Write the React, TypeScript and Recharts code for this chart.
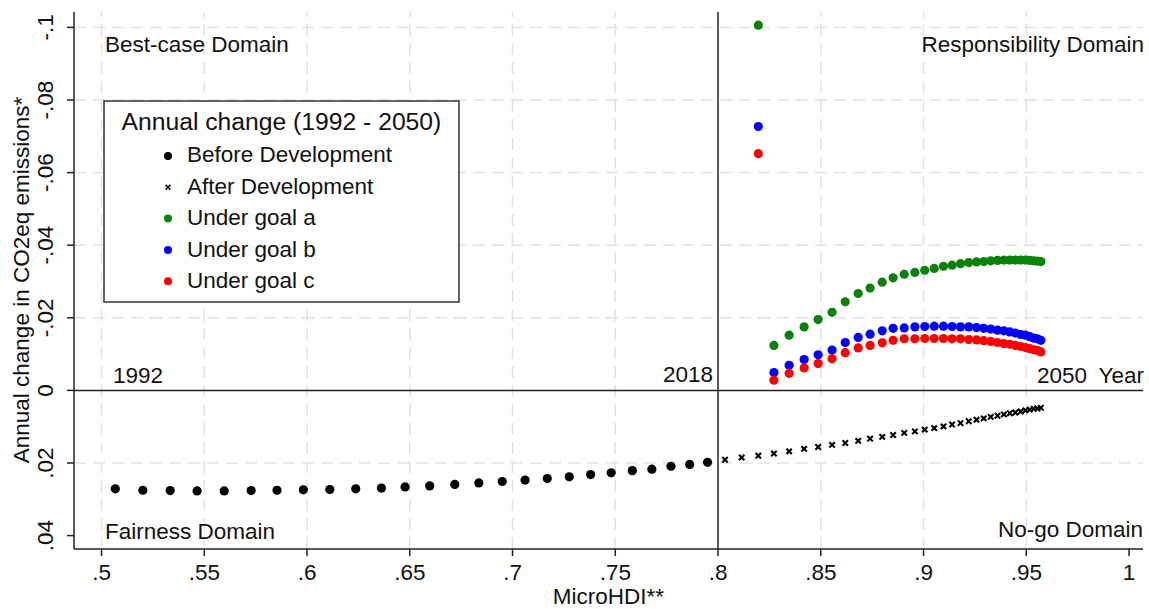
import React from "react";
import { ScatterChart, Scatter, XAxis, YAxis, ReferenceLine } from "recharts";

const FONT = "'Liberation Sans', Arial, Helvetica, sans-serif";
const FS = 22.5;

// Ticks
const xTicks = [0.5, 0.55, 0.6, 0.65, 0.7, 0.75, 0.8, 0.85, 0.9, 0.95, 1];
const xTickLabels = [".5", ".55", ".6", ".65", ".7", ".75", ".8", ".85", ".9", ".95", "1"];
const yTicks = [-0.1, -0.08, -0.06, -0.04, -0.02, 0, 0.02, 0.04];
const yTickLabels = ["-.1", "-.08", "-.06", "-.04", "-.02", "0", ".02", ".04"];
const gridX = [0.5, 0.55, 0.6, 0.65, 0.7, 0.75, 0.85, 0.9, 0.95];
const gridY = [-0.1, -0.08, -0.06, -0.04, -0.02, 0.02];

// Before Development (1992-2017)
const beforeX = [
  0.5067, 0.5201, 0.5334, 0.5465, 0.5597, 0.5728, 0.5854, 0.5982, 0.6111, 0.6237,
  0.6362, 0.6477, 0.6597, 0.6719, 0.6836, 0.695, 0.7061, 0.7169, 0.7276, 0.738,
  0.748, 0.7583, 0.7678, 0.7771, 0.7862, 0.7949,
];
const beforeY = [
  0.0271, 0.0275, 0.0276, 0.0277, 0.0277, 0.0276, 0.0275, 0.0274, 0.0273, 0.0271,
  0.0269, 0.0266, 0.0263, 0.0259, 0.0255, 0.0251, 0.0247, 0.0243, 0.0238, 0.0232,
  0.0227, 0.0221, 0.0217, 0.0209, 0.0204, 0.0198,
];

// After Development (2018-2050)
const afterX = [
  0.8034, 0.8115, 0.8196, 0.8272, 0.8346, 0.8419, 0.8487, 0.8555, 0.8619, 0.8682,
  0.874, 0.8799, 0.8852, 0.8906, 0.8958, 0.9006, 0.9052, 0.9097, 0.9139, 0.918,
  0.922, 0.9258, 0.9293, 0.9327, 0.936, 0.9391, 0.942, 0.9447, 0.9473, 0.9496,
  0.9517, 0.9536, 0.9554, 0.9571,
];
const afterY = [
  0.0191, 0.0185, 0.018, 0.0174, 0.0168, 0.0161, 0.0156, 0.015, 0.0145, 0.0139,
  0.0133, 0.0128, 0.0123, 0.0117, 0.0113, 0.0108, 0.0104, 0.0099, 0.0094, 0.009,
  0.0085, 0.0081, 0.0077, 0.0073, 0.007, 0.0066, 0.0063, 0.0061, 0.0058, 0.0055,
  0.0053, 0.0051, 0.005, 0.0048,
];

// Goals (aligned with afterX; null where no value)
const goalA = [
  null, null, -0.1006, -0.0124, -0.0152, -0.0175, -0.0195, -0.0215, -0.0244, -0.0267,
  -0.0282, -0.0298, -0.031, -0.032, -0.0325, -0.0331, -0.0336, -0.0342, -0.0345, -0.0349,
  -0.0352, -0.0354, -0.0355, -0.0357, -0.0358, -0.0359, -0.0359, -0.0359, -0.0359, -0.0359,
  -0.0358, -0.0357, -0.0356, -0.0355,
];
const goalB = [
  null, null, -0.0727, -0.0049, -0.0069, -0.0085, -0.0098, -0.0111, -0.0132, -0.0146,
  -0.0155, -0.0164, -0.0171, -0.0172, -0.0175, -0.0176, -0.0177, -0.0177, -0.0176, -0.0175,
  -0.0175, -0.0173, -0.0171, -0.0169, -0.0166, -0.0164, -0.0161, -0.0158, -0.0154, -0.0152,
  -0.0148, -0.0144, -0.0142, -0.0138,
];
const goalC = [
  null, null, -0.0652, -0.0028, -0.0047, -0.0062, -0.0074, -0.0087, -0.0104, -0.0117,
  -0.0124, -0.0131, -0.0138, -0.0142, -0.0142, -0.0143, -0.0143, -0.0143, -0.0142, -0.0142,
  -0.014, -0.0139, -0.0137, -0.0135, -0.0132, -0.0129, -0.0127, -0.0124, -0.0121, -0.0118,
  -0.0115, -0.0112, -0.011, -0.0106,
];

const GREEN = "#0a820a";
const BLUE = "#0000ff";
const RED = "#ff0000";

const toPts = (xs: number[], ys: (number | null)[]) =>
  xs
    .map((x, i) => ({ x, y: ys[i] }))
    .filter((p) => p.y !== null && p.y !== undefined) as { x: number; y: number }[];

const beforeData = toPts(beforeX, beforeY);
const afterData = toPts(afterX, afterY);
const aData = toPts(afterX, goalA);
const bData = toPts(afterX, goalB);
const cData = toPts(afterX, goalC);

const dot = (color: string, r = 4.6) => (p: any) =>
  <circle cx={p.cx} cy={p.cy} r={r} fill={color} stroke="none" />;

const cross = (p: any) => {
  const s = 2.7;
  return (
    <path
      d={`M${p.cx - s},${p.cy - s}L${p.cx + s},${p.cy + s}M${p.cx - s},${p.cy + s}L${p.cx + s},${p.cy - s}`}
      stroke="#000"
      strokeWidth={2.1}
      fill="none"
    />
  );
};

const fmtX = (v: number) => {
  const i = xTicks.findIndex((t) => Math.abs(t - v) < 1e-9);
  return i >= 0 ? xTickLabels[i] : String(v);
};

const YTick = (props: any) => {
  const { x, y, payload } = props;
  const i = yTicks.findIndex((t) => Math.abs(t - payload.value) < 1e-9);
  const label = i >= 0 ? yTickLabels[i] : String(payload.value);
  return (
    <text
      x={x}
      y={y}
      transform={`rotate(-90, ${x}, ${y})`}
      textAnchor="middle"
      fontSize={FS}
      fontFamily={FONT}
      fill="#111"
    >
      {label}
    </text>
  );
};

const T = (p: { x: number; y: number; anchor?: "start" | "end" | "middle"; size?: number; children: React.ReactNode }) => (
  <text x={p.x} y={p.y} textAnchor={p.anchor || "start"} fontSize={p.size || FS} fontFamily={FONT} fill="#111">
    {p.children}
  </text>
);

const legendItems = [
  { label: "Before Development", kind: "dot", color: "#000" },
  { label: "After Development", kind: "cross", color: "#000" },
  { label: "Under goal a", kind: "dot", color: GREEN },
  { label: "Under goal b", kind: "dot", color: BLUE },
  { label: "Under goal c", kind: "dot", color: RED },
];

export default function App() {
  return (
    <div style={{ position: "absolute", left: 0, top: 0, width: 1149, height: 609, background: "#fff" }}>
      <ScatterChart width={1149} height={609} margin={{ top: 12, right: 6, bottom: 0, left: 14 }}>
        {gridX.map((v) => (
          <ReferenceLine key={"gx" + v} x={v} stroke="#e2e2e2" strokeWidth={1.5} strokeDasharray="12 7" />
        ))}
        {gridY.map((v) => (
          <ReferenceLine key={"gy" + v} y={v} stroke="#e2e2e2" strokeWidth={1.5} strokeDasharray="12 7" />
        ))}
        <XAxis
          type="number"
          dataKey="x"
          domain={[0.4866, 1.0068]}
          ticks={xTicks}
          interval={0}
          tickFormatter={fmtX}
          allowDataOverflow
          height={60}
          tickSize={7}
          tickMargin={8}
          stroke="#222"
          strokeWidth={1.5}
          tick={{ fontSize: FS, fill: "#111", fontFamily: FONT }}
        />
        <YAxis
          type="number"
          dataKey="y"
          domain={[-0.10424, 0.04369]}
          reversed
          ticks={yTicks}
          interval={0}
          allowDataOverflow
          width={60}
          tickSize={7}
          tickMargin={14}
          stroke="#222"
          strokeWidth={1.5}
          tick={<YTick />}
        />
        <ReferenceLine y={0} stroke="#222" strokeWidth={1.5} />
        <ReferenceLine x={0.8} stroke="#222" strokeWidth={1.5} />
        <Scatter name="Before Development" data={beforeData} shape={dot("#000")} isAnimationActive={false} />
        <Scatter name="After Development" data={afterData} shape={cross} isAnimationActive={false} />
        <Scatter name="Under goal a" data={aData} shape={dot(GREEN)} isAnimationActive={false} />
        <Scatter name="Under goal b" data={bData} shape={dot(BLUE)} isAnimationActive={false} />
        <Scatter name="Under goal c" data={cData} shape={dot(RED)} isAnimationActive={false} />
      </ScatterChart>
      <svg
        width={1149}
        height={609}
        style={{ position: "absolute", left: 0, top: 0, pointerEvents: "none" }}
      >
        <T x={105} y={52}>Best-case Domain</T>
        <T x={1144} y={52} anchor="end">Responsibility Domain</T>
        <T x={113} y={382.5}>1992</T>
        <T x={713} y={382} anchor="end">2018</T>
        <T x={1037} y={382.5}>2050</T>
        <T x={1144} y={382.5} anchor="end">Year</T>
        <T x={105} y={539}>Fairness Domain</T>
        <T x={1143} y={537} anchor="end">No-go Domain</T>
        <T x={608.5} y={604} anchor="middle">MicroHDI**</T>
        <text
          x={29}
          y={280}
          transform="rotate(-90, 29, 280)"
          textAnchor="middle"
          fontSize={FS}
          fontFamily={FONT}
          fill="#111"
        >
          Annual change in CO2eq emissions*
        </text>
        <rect x={104} y={101} width={355} height={201} fill="#fff" stroke="#333" strokeWidth={1.5} />
        <T x={121.5} y={130} size={24.7}>Annual change (1992 - 2050)</T>
        {legendItems.map((it, i) => {
          const cy = 156 + i * 31.3;
          const by = 162.3 + i * 31.5;
          return (
            <g key={it.label}>
              {it.kind === "dot" ? (
                <circle cx={168} cy={cy} r={4} fill={it.color} />
              ) : (
                <path
                  d={`M${165.6},${cy - 2.4}L${170.4},${cy + 2.4}M${165.6},${cy + 2.4}L${170.4},${cy - 2.4}`}
                  stroke="#000"
                  strokeWidth={1.6}
                />
              )}
              <T x={187} y={by}>{it.label}</T>
            </g>
          );
        })}
      </svg>
    </div>
  );
}
